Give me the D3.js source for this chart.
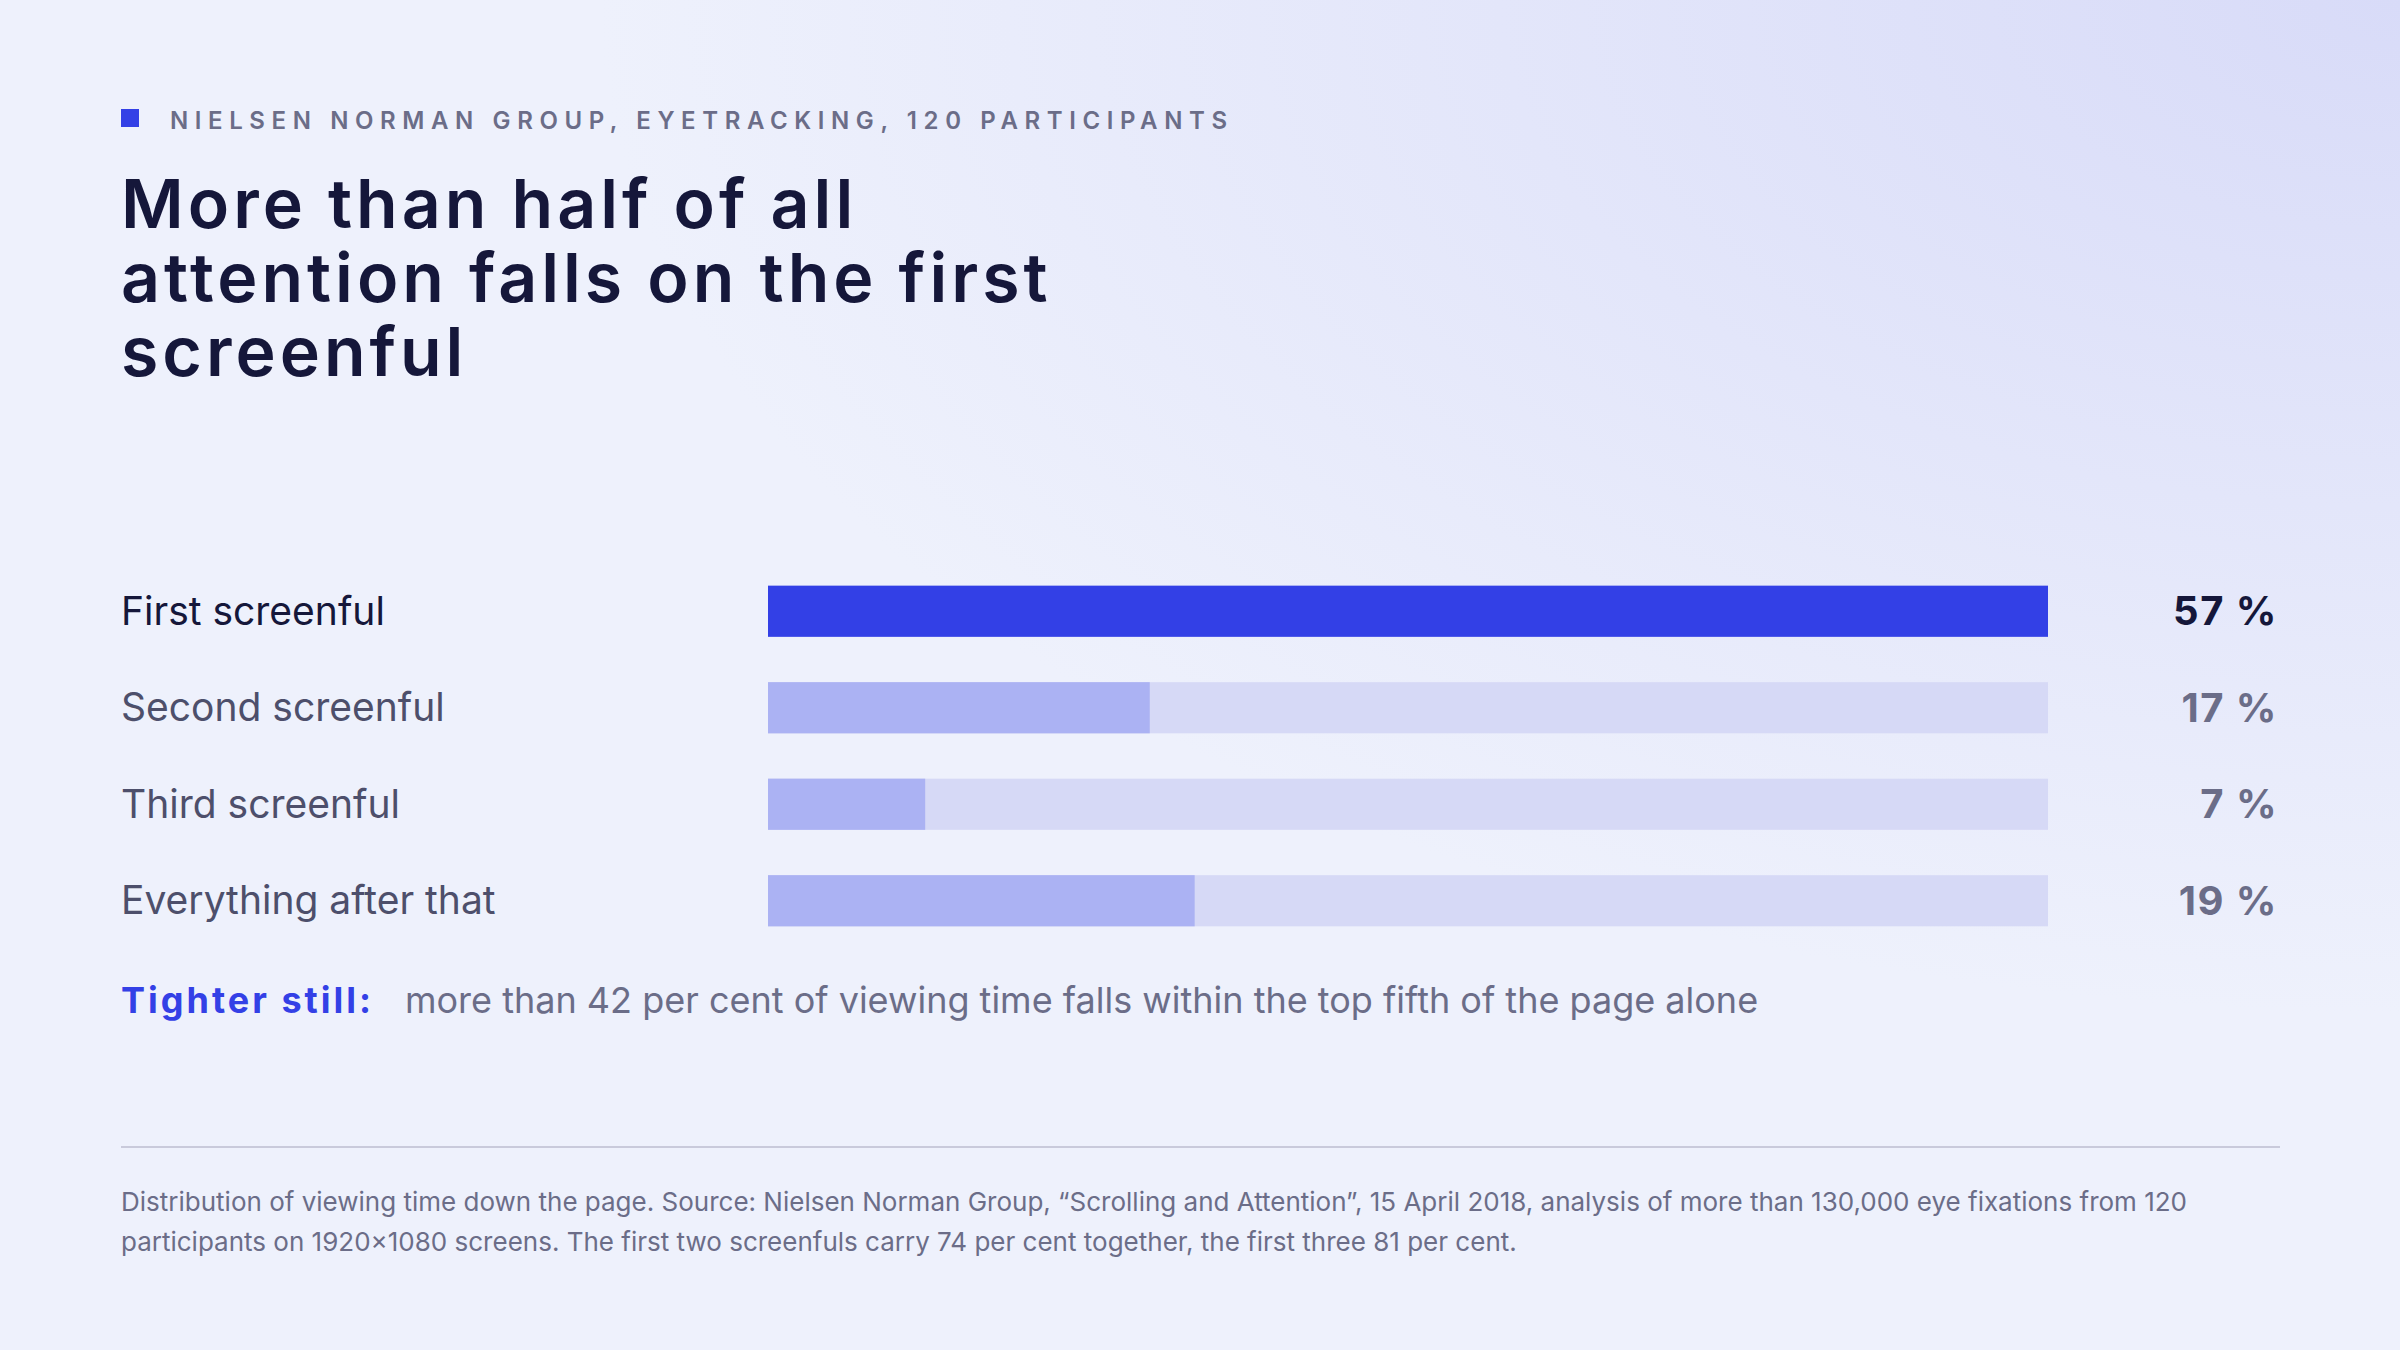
<!DOCTYPE html>
<html>
<head>
<meta charset="utf-8">
<script src="https://cdn.jsdelivr.net/npm/d3@7"></script>
<style>
  body { margin: 0; }
  svg text { font-family: Inter, "Noto Sans", sans-serif; }
</style>
</head>
<body>
<div id="chart"></div>
<script>
const categories = ['First screenful', 'Second screenful', 'Third screenful', 'Everything after that'];
const values = [57, 17, 7, 19];
const kicker = 'NIELSEN NORMAN GROUP, EYETRACKING, 120 PARTICIPANTS';
const titleLines = ['More than half of all', 'attention falls on the first', 'screenful'];
const noteLead = 'Tighter still:';
const noteText = 'more than 42 per cent of viewing time falls within the top fifth of the page alone';
const footLines = [
  'Distribution of viewing time down the page. Source: Nielsen Norman Group, \u201cScrolling and Attention\u201d, 15 April 2018, analysis of more than 130,000 eye fixations from 120',
  'participants on 1920x1080 screens. The first two screenfuls carry 74 per cent together, the first three 81 per cent.'
];

const width = 2400, height = 1350;
const svg = d3.select('#chart').append('svg').attr('width', width).attr('height', height);

const defs = svg.append('defs');
const bg = defs.append('radialGradient').attr('id', 'bg')
  .attr('cx', '100%').attr('cy', '0%').attr('r', '75%');
bg.append('stop').attr('offset', '0%').attr('stop-color', '#d8dbf8');
bg.append('stop').attr('offset', '100%').attr('stop-color', '#eef1fc');
svg.append('rect').attr('width', width).attr('height', height).attr('fill', 'url(#bg)');

// header
svg.append('rect').attr('x', 121).attr('y', 109).attr('width', 18).attr('height', 18).attr('fill', '#3340e6');
svg.append('text').attr('x', 170).attr('y', 129).text(kicker)
  .attr('font-size', 24).attr('font-weight', 600).attr('letter-spacing', 6.6).attr('fill', '#6b6d88');
svg.append('g').selectAll('text').data(titleLines).join('text')
  .attr('x', 121).attr('y', (d, i) => 228 + i * 74)
  .attr('font-size', 68).attr('font-weight', 600).attr('letter-spacing', 4)
  .attr('fill', '#15173a').text(d => d);

// bars
const x = d3.scaleLinear().domain([0, d3.max(values)]).range([768, 2048]);
const y = d3.scaleBand().domain(categories).range([563, 949]).paddingInner(0.47).paddingOuter(0.235);

const rows = svg.append('g').selectAll('g').data(categories).join('g');
rows.append('rect').attr('x', x(0)).attr('y', d => y(d))
  .attr('width', x.range()[1] - x(0)).attr('height', y.bandwidth()).attr('fill', '#d6d9f6');
rows.append('rect').attr('x', x(0)).attr('y', d => y(d))
  .attr('width', (d, i) => x(values[i]) - x(0)).attr('height', y.bandwidth())
  .attr('fill', (d, i) => i === 0 ? '#3340e6' : '#abb2f3');
rows.append('text').attr('x', 121).attr('y', d => y(d) + y.bandwidth() / 2)
  .attr('dy', '0.35em').attr('font-size', 39)
  .attr('fill', (d, i) => i === 0 ? '#15173a' : '#4d4f6b').text(d => d);
rows.append('text').attr('x', 2278).attr('y', d => y(d) + y.bandwidth() / 2)
  .attr('dy', '0.35em').attr('text-anchor', 'end').attr('font-size', 40).attr('font-weight', 700)
  .attr('letter-spacing', 1.5)
  .attr('fill', (d, i) => i === 0 ? '#15173a' : '#6b6d88').text((d, i) => values[i] + ' %');

// note
const note = svg.append('text').attr('x', 121).attr('y', 1013).attr('font-size', 36);
note.append('tspan').text(noteLead).attr('font-weight', 700).attr('fill', '#3340e6').attr('letter-spacing', 3);
note.append('tspan').attr('x', 405).text(noteText).attr('fill', '#6b6d88');

// footer
svg.append('line').attr('x1', 121).attr('x2', 2280).attr('y1', 1147).attr('y2', 1147)
  .attr('stroke', '#c9cadb').attr('stroke-width', 2);
svg.append('g').selectAll('text').data(footLines).join('text')
  .attr('x', 121).attr('y', (d, i) => 1211 + i * 40)
  .attr('font-size', 26).attr('fill', '#6b6d88').text(d => d);
</script>
</body>
</html>
